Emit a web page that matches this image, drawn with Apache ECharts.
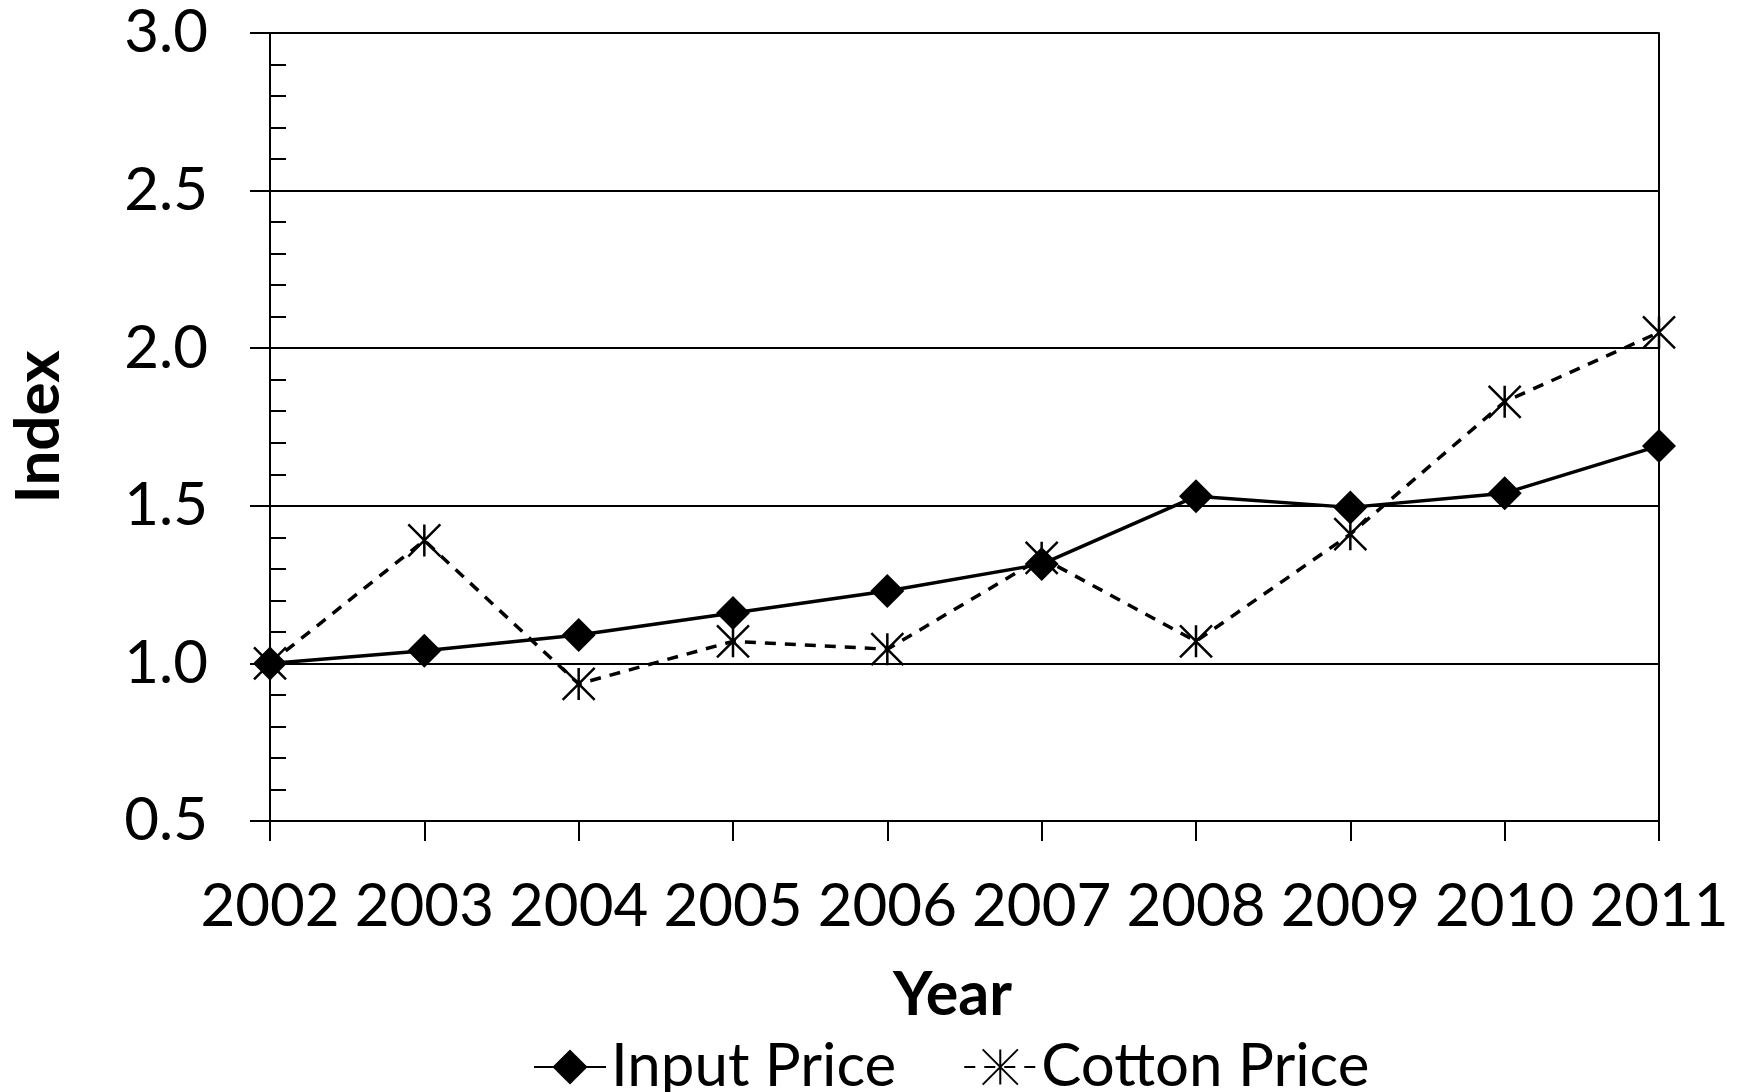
<!DOCTYPE html>
<html><head><meta charset="utf-8">
<script src="https://cdn.jsdelivr.net/npm/echarts@6/dist/echarts.min.js"></script>
<style>html,body{margin:0;padding:0;background:#fff}#c{width:1744px;height:1092px}</style>
</head><body><div id="c"></div>
<script>
const years = ['2002','2003','2004','2005','2006','2007','2008','2009','2010','2011'];
const inputPrice = [1.00, 1.04, 1.09, 1.16, 1.23, 1.315, 1.53, 1.495, 1.54, 1.69];
const cottonPrice = [1.00, 1.39, 0.935, 1.07, 1.045, 1.335, 1.07, 1.41, 1.83, 2.05];
const yMin = 0.5, yMax = 3.0, yStep = 0.5;

const FONT = 'Lato';
const star = 'path://M0,0L20,20M20,0L0,20M10,0L10,20';
const chart = echarts.init(document.getElementById('c'));
const baseY = {type:'value', min:yMin, max:yMax, interval:yStep, splitNumber:5};
chart.setOption({
  animation:false,
  backgroundColor:'#fff',
  textStyle:{fontFamily:FONT, color:'#000'},
  grid:{left:268, right:85, top:33, bottom:271},
  legend:{
    bottom:-10, left:528, itemWidth:72, itemHeight:44, itemGap:67,
    textStyle:{fontFamily:FONT, fontSize:60, color:'#000'},
    data:['Input Price','Cotton Price']
  },
  xAxis:{
    type:'category', data:years, boundaryGap:false,
    name:'Year', nameLocation:'middle', nameGap:144,
    nameTextStyle:{fontFamily:FONT, fontSize:61, fontWeight:'bold', color:'#000', padding:[0,24,0,0]},
    axisLine:{lineStyle:{color:'#000', width:2}},
    axisTick:{show:true, length:20, lineStyle:{color:'#000', width:2}},
    axisLabel:{fontFamily:FONT, fontSize:60, color:'#000', margin:56, interval:0},
    splitLine:{show:false}
  },
  yAxis:[
    Object.assign({}, baseY, {
      position:'left',
      name:'Index', nameLocation:'middle', nameRotate:90, nameGap:200,
      nameTextStyle:{fontFamily:FONT, fontSize:62, fontWeight:'bold', color:'#000'},
      axisLine:{show:true, lineStyle:{color:'#000', width:2}},
      axisTick:{show:true, length:20, lineStyle:{color:'#000', width:2}},
      axisLabel:{fontFamily:FONT, fontSize:60, color:'#000', margin:62, formatter:v=>v.toFixed(1)},
      splitLine:{show:true, lineStyle:{color:'#000', width:2}}
    }),
    Object.assign({}, baseY, {
      position:'left',
      axisLine:{show:false},
      axisTick:{show:false, inside:true},
      minorTick:{show:true, splitNumber:5, length:16, lineStyle:{color:'#000', width:2}},
      axisLabel:{show:false},
      splitLine:{show:false}
    }),
    Object.assign({}, baseY, {
      position:'right',
      axisLine:{show:true, lineStyle:{color:'#000', width:2}},
      axisTick:{show:false},
      axisLabel:{show:false},
      splitLine:{show:false}
    })
  ],
  series:[
    {
      name:'Input Price', type:'line', data:inputPrice, yAxisIndex:0,
      symbol:'diamond', symbolSize:34,
      lineStyle:{color:'#000', width:3.5},
      itemStyle:{color:'#000'}
    },
    {
      name:'Cotton Price', type:'line', data:cottonPrice, yAxisIndex:0,
      symbol:star, symbolSize:32,
      lineStyle:{color:'#000', width:3.5, type:[11,9]},
      itemStyle:{color:'rgba(0,0,0,0)', borderColor:'#000', borderWidth:2.5}
    }
  ]
});
</script></body></html>
